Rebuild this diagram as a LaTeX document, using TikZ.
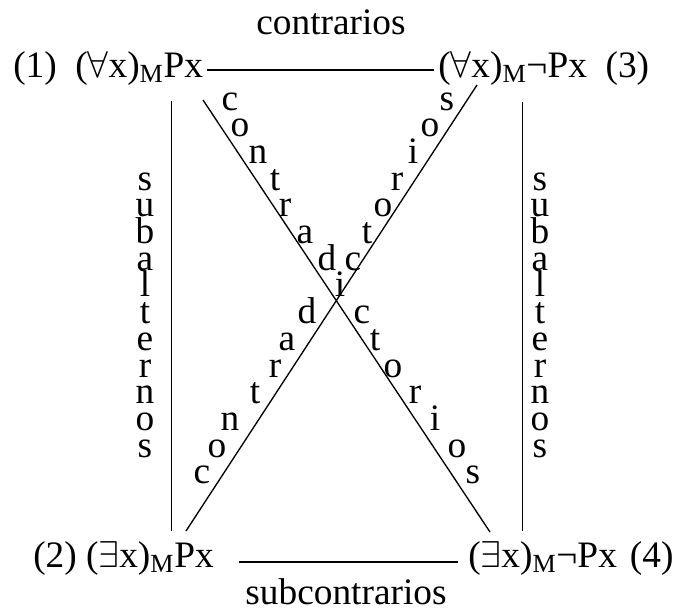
\documentclass[tikz,border=0pt]{standalone}
\usepackage{fix-cm}
\usepackage{fontspec}
\setmainfont{Liberation Serif}
\usepackage{tikz}

\begin{document}
\begin{tikzpicture}[
  x=0.75pt, y=-0.75pt,
  every node/.style={font=\fontsize{28}{34}\selectfont},
  formula/.style={anchor=base west, inner sep=3pt},
  letter/.style={anchor=base, inner sep=0pt},
  link/.style={line width=1pt}
]
\useasboundingbox (0,0) rectangle (679,611);

% the four propositions
\node[formula] (univ) at (9,77) {(1)~~($\forall$x)\textsubscript{M}Px};
\node[formula] (univneg) at (434,77) {($\forall$x)\textsubscript{M}¬Px~~(3)};
\node[formula] (exist) at (29,567) {(2) ($\exists$x)\textsubscript{M}Px};
\node[formula] (existneg) at (464,567) {($\exists$x)\textsubscript{M}¬Px\hspace{0.35em}(4)};

\node[letter] (contr) at (331,34) {contrarios};
\node[letter] (subcontr) at (346,604) {subcontrarios};

% free ends of the sides and diagonals
\coordinate (lefttop) at (171.5,101);
\coordinate (leftbot) at (171.5,531);
\coordinate (righttop) at (522.5,102);
\coordinate (rightbot) at (522.5,531);
\coordinate (diagatop) at (203,100);
\coordinate (diagabot) at (490,532);
\coordinate (diagbtop) at (477,85);
\coordinate (diagbbot) at (186,531);

\draw[link] ([yshift=-1.5pt]univ.east) -- ([yshift=-1.5pt]univneg.west);
\draw[link] ([xshift=15.75pt,yshift=-3pt]exist.east) -- ([xshift=-4.5pt,yshift=-3pt]existneg.west);
\draw[link] (lefttop) -- (leftbot);
\draw[link] (righttop) -- (rightbot);
\draw[link] (diagatop) -- (diagabot);
\draw[link] (diagbtop) -- (diagbbot);

% subalternos, one letter per line
\foreach \l [count=\k from 3] in {s,u,b,a,l,t,e,r,n,o,s} {
  \node[letter] (subl\k) at (145,{110+26.7*\k}) {\l};
  \node[letter] (subr\k) at (540,{110+26.7*\k}) {\l};
}

% contradictorios along the diagonals (the i is shared)
\foreach \l/\x [count=\k from 0] in {c/230,o/240,n/258,t/275,r/285,a/305,d/327,i/340,c/362,t/375,o/393,r/415,i/435,o/457,s/473}
  \node[letter] (conta\k) at (\x,{110+26.7*\k}) {\l};
\foreach \l/\x/\k in {s/447/0,o/430/1,i/413/2,r/397/3,o/383/4,t/367/5,c/353/6,d/307/8,a/287/9,r/275/10,t/255/11,n/230/12,o/217/13,c/202/14}
  \node[letter] (contb\k) at (\x,{110+26.7*\k}) {\l};
\end{tikzpicture}
\end{document}
